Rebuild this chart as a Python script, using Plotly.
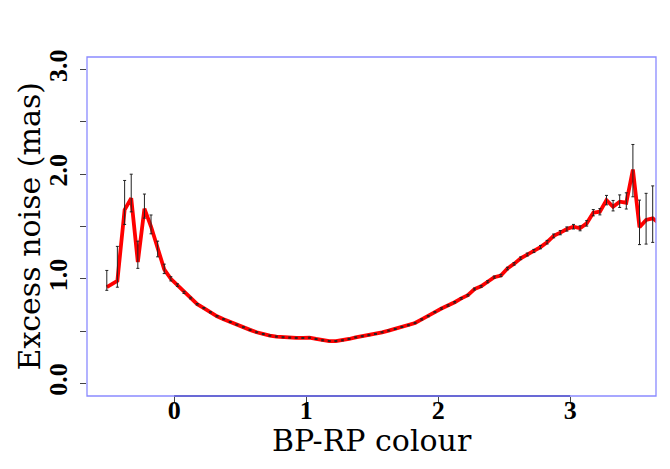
import plotly.graph_objects as go

# BP-RP colour bin centres
colour = [-0.51, -0.43, -0.375, -0.325, -0.275, -0.225, -0.175, -0.125, -0.075, -0.025,
          0.025, 0.075, 0.125, 0.175, 0.225, 0.275, 0.325, 0.375, 0.425, 0.475,
          0.525, 0.575, 0.625, 0.675, 0.725, 0.775, 0.825, 0.875, 0.925, 0.975,
          1.025, 1.075, 1.125, 1.175, 1.225, 1.275, 1.325, 1.375, 1.425, 1.475,
          1.525, 1.575, 1.625, 1.675, 1.725, 1.775, 1.825, 1.875, 1.925, 1.975,
          2.025, 2.075, 2.125, 2.175, 2.225, 2.275, 2.325, 2.375, 2.425, 2.475,
          2.525, 2.575, 2.625, 2.675, 2.725, 2.775, 2.825, 2.875, 2.925, 2.975,
          3.025, 3.075, 3.125, 3.175, 3.225, 3.275, 3.325, 3.375, 3.425, 3.475,
          3.525, 3.575, 3.625, 3.675]

# Excess noise (mas)
noise = [0.92, 0.98, 1.66, 1.77, 1.16, 1.67, 1.50, 1.28, 1.09, 1.00,
         0.94, 0.87, 0.816, 0.757, 0.72, 0.68, 0.642, 0.614, 0.587, 0.562,
         0.537, 0.512, 0.489, 0.472, 0.457, 0.448, 0.441, 0.438, 0.436, 0.435,
         0.437, 0.425, 0.412, 0.405, 0.405, 0.412, 0.425, 0.440, 0.451, 0.461,
         0.473, 0.489, 0.505, 0.521, 0.540, 0.556, 0.578, 0.612, 0.643, 0.682,
         0.716, 0.745, 0.776, 0.813, 0.843, 0.902, 0.928, 0.972, 1.016, 1.032,
         1.098, 1.143, 1.196, 1.232, 1.266, 1.303, 1.350, 1.410, 1.441, 1.476,
         1.498, 1.483, 1.530, 1.632, 1.641, 1.752, 1.689, 1.737, 1.727, 2.044,
         1.492, 1.562, 1.578, 1.530]

# upper / lower error extents
err_plus = [0.16, 0.33, 0.28, 0.23, 0.20, 0.14, 0.11, 0.08, 0.05, 0.02,
            0.012, 0.01, 0.008, 0.007, 0.006, 0.006, 0.006, 0.005, 0.005, 0.005,
            0.005, 0.005, 0.005, 0.005, 0.005, 0.005, 0.005, 0.005, 0.005, 0.005,
            0.005, 0.005, 0.005, 0.005, 0.005, 0.005, 0.005, 0.005, 0.005, 0.005,
            0.005, 0.005, 0.005, 0.005, 0.005, 0.005, 0.006, 0.006, 0.006, 0.006,
            0.007, 0.007, 0.007, 0.008, 0.008, 0.009, 0.009, 0.01, 0.01, 0.011,
            0.012, 0.012, 0.013, 0.014, 0.015, 0.016, 0.017, 0.018, 0.02, 0.02,
            0.022, 0.024, 0.026, 0.03, 0.03, 0.045, 0.06, 0.065, 0.095, 0.24,
            0.26, 0.255, 0.31, 0.33]
err_minus = [0.03, 0.06, 0.14, 0.13, 0.06, 0.09, 0.07, 0.07, 0.04, 0.02,
             0.012, 0.01, 0.008, 0.007, 0.006, 0.006, 0.006, 0.005, 0.005, 0.005,
             0.005, 0.005, 0.005, 0.005, 0.005, 0.005, 0.005, 0.005, 0.005, 0.005,
             0.005, 0.005, 0.005, 0.005, 0.005, 0.005, 0.005, 0.005, 0.005, 0.005,
             0.005, 0.005, 0.005, 0.005, 0.005, 0.005, 0.006, 0.006, 0.006, 0.006,
             0.007, 0.007, 0.007, 0.008, 0.008, 0.009, 0.009, 0.01, 0.01, 0.011,
             0.012, 0.012, 0.013, 0.014, 0.015, 0.016, 0.017, 0.018, 0.02, 0.02,
             0.022, 0.024, 0.026, 0.03, 0.03, 0.045, 0.04, 0.055, 0.06, 0.26,
             0.165, 0.23, 0.23, 0.2]

x_ticks = [0, 1, 2, 3]
x_ticktext = ["0", "1", "2", "3"]
y_ticks = [0, 0.5, 1, 1.5, 2, 2.5, 3]
y_ticktext = ["0.0", "", "1.0", "", "2.0", "", "3.0"]
x_title = "BP-RP colour"
y_title = "Excess noise (mas)"

fig = go.Figure()
fig.add_trace(go.Scatter(x=colour, y=noise, mode="lines",
                         line=dict(color="#ff0000", width=3.8),
                         showlegend=False, hoverinfo="skip"))
fig.add_trace(go.Scatter(x=colour, y=noise, mode="markers",
                         marker=dict(size=1, color="rgba(0,0,0,0)"),
                         error_y=dict(type="data", symmetric=False,
                                      array=err_plus, arrayminus=err_minus,
                                      color="#222222", thickness=1, width=1.5),
                         showlegend=False))

fig.add_shape(type="rect", xref="paper", yref="paper", x0=0, x1=1, y0=0, y1=1,
              line=dict(color="#8a8aff", width=1.3), layer="above")
fig.add_shape(type="line", xref="x", yref="paper", x0=x_ticks[0], x1=x_ticks[-1],
              y0=0, y1=0, line=dict(color="#5555c8", width=1.6), layer="above")

tickfont = dict(family="Liberation Serif", size=26, color="black")
titlefont = dict(family="DejaVu Serif", size=30, color="black")

# plot area (page px, page has 8px body offset): 87..656 horizontally, 57..396 vertically
fig.add_annotation(text=x_title, xref="paper", yref="paper", x=0.5, y=-44 / 339,
                   xanchor="center", yanchor="middle", showarrow=False, font=titlefont)
fig.add_annotation(text=y_title, xref="paper", yref="paper", x=-58 / 569, y=0.5,
                   xanchor="center", yanchor="middle", showarrow=False, textangle=-90,
                   font=titlefont)

fig.update_layout(
    width=670, height=469,
    margin=dict(l=79, r=22, t=49, b=81, autoexpand=False),
    plot_bgcolor="white", paper_bgcolor="white",
    xaxis=dict(range=[-0.66, 3.65], tickvals=x_ticks,
               ticktext=["<b>%s</b>" % t for t in x_ticktext],
               showgrid=False, zeroline=False, showline=False, automargin=False,
               ticks="outside", ticklen=6, tickcolor="#444444", tickwidth=1,
               tickfont=tickfont, ticklabelstandoff=-15),
    yaxis=dict(range=[-0.12, 3.12], tickvals=y_ticks,
               ticktext=["<b>%s</b>" % t if t else "" for t in y_ticktext],
               showgrid=False, zeroline=False, showline=False, automargin=False,
               ticks="outside", ticklen=6, tickcolor="#444444", tickwidth=1,
               tickangle=-90, tickfont=tickfont, ticklabelstandoff=3),
)

fig.write_html("out.html")
